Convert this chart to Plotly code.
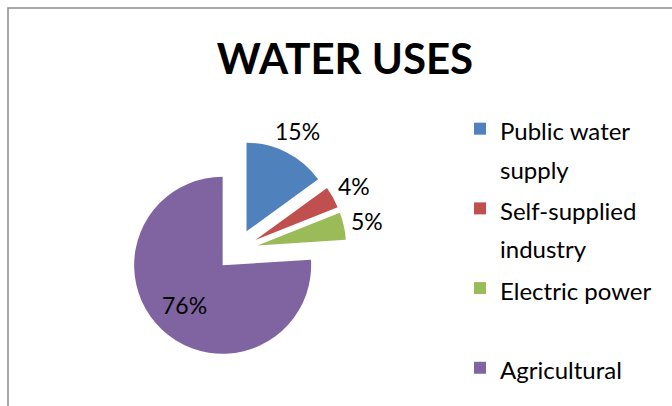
import math
import plotly.graph_objects as go

categories = ["Public water<br>supply", "Self-supplied<br>industry", "Electric power<br> ", "Agricultural"]
values = [15, 4, 5, 76]
colors = ["#4F81BD", "#C0504D", "#9BBB59", "#8064A2"]
label_outside = [True, True, True, False]

W, H = 672, 406
cx, cy, r, pull = 237, 250, 88.5, 0.237
half = r * (1 + pull)

# legend text drawn at 24px, with the legend's line height set by a larger base size
legend_labels = ["<br>".join(f'<span style="font-size:24px">{part}</span>' for part in c.split("<br>"))
                 for c in categories]

fig = go.Figure(go.Pie(
    labels=legend_labels,
    values=values,
    sort=False,
    direction="clockwise",
    rotation=0,
    pull=[pull] * 4,
    marker=dict(colors=colors, line=dict(width=0)),
    textinfo="none",
    domain=dict(x=[(cx - half) / W, (cx + half) / W],
                y=[(H - cy - half) / H, (H - cy + half) / H]),
    hoverinfo="percent",
))

# percentage labels placed along each slice's bisector
total = sum(values)
annotations = []
cum = 0
for v, outside in zip(values, label_outside):
    mid = (cum + v / 2) / total * 2 * math.pi
    cum += v
    dist = 133 if outside else 76
    px = cx + dist * math.sin(mid)
    py = cy - dist * math.cos(mid)
    annotations.append(dict(
        text=f"{round(v / total * 100)}%", x=px / W, y=1 - py / H,
        xref="paper", yref="paper", xanchor="center", yanchor="middle",
        showarrow=False, font=dict(family="Lato", size=23, color="#000000")))

fig.update_layout(
    width=W, height=H,
    margin=dict(l=0, r=0, t=0, b=0),
    paper_bgcolor="white",
    title=dict(text="<b>WATER USES</b>", x=345 / W, xanchor="center",
               y=1 - 59 / H, yanchor="middle",
               font=dict(family="Lato", size=42, color="#000000")),
    legend=dict(x=460 / W, y=1 - 103 / H, xanchor="left", yanchor="top",
                font=dict(family="Lato", size=29.5, color="#000000"),
                itemwidth=30, valign="top", bgcolor="rgba(0,0,0,0)"),
    annotations=annotations,
    shapes=[dict(type="rect", xref="paper", yref="paper",
                 x0=8 / W, x1=1.2, y0=-0.2, y1=1 - 8 / H,
                 line=dict(color="#8C8C8C", width=1.5), fillcolor="rgba(0,0,0,0)",
                 layer="below")],
)

fig.write_html("out.html")
